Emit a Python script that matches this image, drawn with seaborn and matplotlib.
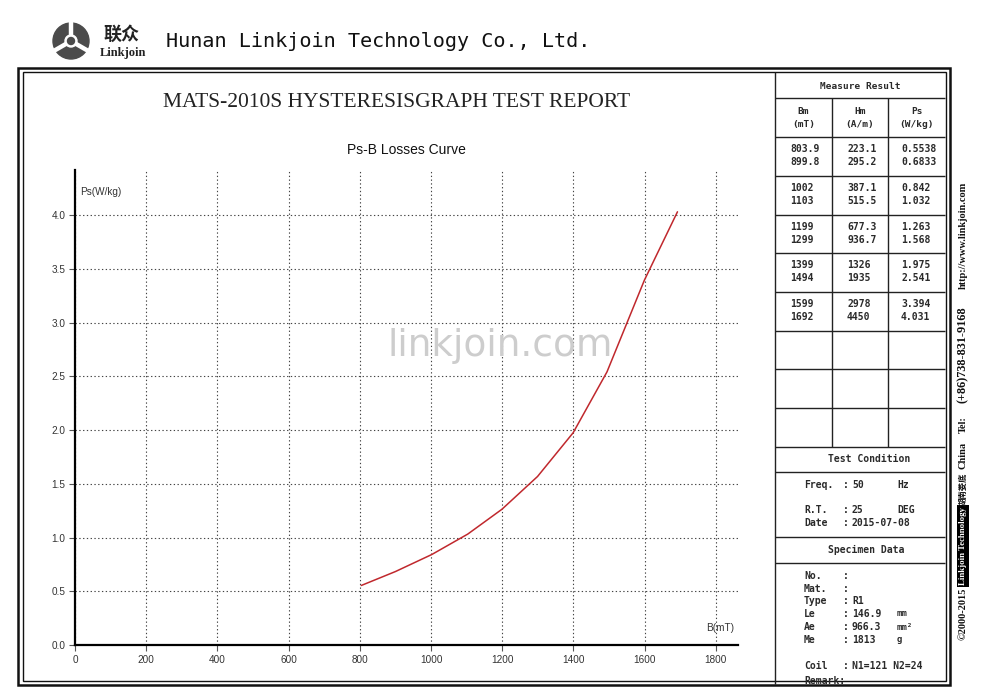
import numpy as np
import pandas as pd
import matplotlib
matplotlib.use("Agg")
import matplotlib.pyplot as plt
import seaborn as sns
from matplotlib.patches import Circle, Rectangle
from matplotlib.ticker import FormatStrFormatter

# measured data (Measure Result table)
bm = [803.9, 899.8, 1002, 1103, 1199, 1299, 1399, 1494, 1599, 1692]
hm = [223.1, 295.2, 387.1, 515.5, 677.3, 936.7, 1326, 1935, 2978, 4450]
ps = [0.5538, 0.6833, 0.842, 1.032, 1.263, 1.568, 1.975, 2.541, 3.394, 4.031]

x_ticks = [0, 200, 400, 600, 800, 1000, 1200, 1400, 1600, 1800]
y_ticks = [0.0, 0.5, 1.0, 1.5, 2.0, 2.5, 3.0, 3.5, 4.0]

col_heads = [("Bm", "(mT)"), ("Hm", "(A/m)"), ("Ps", "(W/kg)")]

cond_labels = ["Freq.", "R.T.", "Date"]
cond_values = ["50", "25", "2015-07-08"]
cond_units = ["Hz", "DEG", ""]

spec_labels = ["No.", "Mat.", "Type", "Le", "Ae", "Me", "Coil"]
spec_values = ["", "", "R1", "146.9", "966.3", "1813", "N1=121 N2=24"]
spec_units = ["", "", "", "mm", "mm²", "g", ""]

sns.set_theme(style="white")
plt.rcParams["font.family"] = ["Liberation Sans", "Noto Sans CJK SC"]

fig = plt.figure(figsize=(10, 6.94), dpi=100)

# full-figure layer in pixel units for the report frame / table
bg = fig.add_axes([0, 0, 1, 1], zorder=0)
bg.set_xlim(0, 1000)
bg.set_ylim(694, 0)
bg.axis("off")

MONO = "DejaVu Sans Mono"
SERIF = ["Liberation Serif", "Noto Sans CJK SC"]
TXT = "#2a2a2a"


def px(x, y, s, **kw):
    kw.setdefault("fontsize", 7)
    kw.setdefault("family", MONO)
    kw.setdefault("color", TXT)
    kw.setdefault("va", "center")
    bg.text(x, y, s, **kw)


def hline(y, x0, x1, lw=1.0, color="#222"):
    bg.plot([x0, x1], [y, y], color=color, lw=lw, solid_capstyle="butt", zorder=3)


def vline(x, y0, y1, lw=1.0, color="#222"):
    bg.plot([x, x], [y0, y1], color=color, lw=lw, solid_capstyle="butt", zorder=3)


# header: logo + company name
bg.add_patch(Circle((71, 41), 18, color="#4b4b4b", zorder=2))
for ang in (90, 210, 330):
    a = np.deg2rad(ang)
    bg.plot([71, 71 + 19 * np.cos(a)], [41, 41 - 19 * np.sin(a)], color="white", lw=3.2, zorder=3)
bg.add_patch(Circle((71, 41), 6, color="white", zorder=3))
bg.add_patch(Circle((71, 41), 3.5, color="#4b4b4b", zorder=4))
px(122, 34, "联众", fontsize=13, family="Noto Sans CJK SC", weight="bold", ha="center", color="#222")
px(123, 53, "Linkjoin", fontsize=9, family=SERIF, weight="bold", ha="center", color="#222")
px(166, 41, "Hunan Linkjoin Technology Co., Ltd.", fontsize=14.5, family=MONO, color="#111")

# double frame
bg.add_patch(Rectangle((18, 68), 932, 617, fill=False, lw=1.8, ec="#111", zorder=3))
bg.add_patch(Rectangle((22.5, 72), 923, 609, fill=False, lw=1.0, ec="#111", zorder=3))

# report titles
px(397, 102, "MATS-2010S HYSTERESISGRAPH TEST REPORT", fontsize=15.5, family=SERIF, ha="center", color="#222")
px(406, 150, "Ps-B Losses Curve", fontsize=10, family="Liberation Sans", ha="center", color="#111")

# ---- right table ----
c0, c1, c2, c3 = 775, 832, 888, 945
vline(c0, 72, 684)
rows = [98, 137, 176, 215, 253, 292, 331, 369, 408, 447, 472, 537, 563]
for r in rows:
    hline(r, c0, c3)
for cx in (c1, c2):
    vline(cx, 98, 447)

px(860, 86, "Measure Result", ha="center", weight="bold", fontsize=6.8)
centers = [803.5, 860, 916.5]
for cx, (h1, h2) in zip(centers, col_heads):
    px(cx, 111, h1, ha="center", weight="bold", fontsize=6.8)
    px(cx, 124, h2, ha="center", weight="bold", fontsize=6.8)

lefts = [790, 847, 901]
for i in range(len(bm)):
    r = i // 2
    y = rows[1 + r] + 11.5 + 13 * (i % 2)
    for xl, v in zip(lefts, (bm[i], hm[i], ps[i])):
        px(xl, y, f"{v:g}", weight="bold", fontsize=7)

px(869, 459, "Test Condition", ha="center", weight="bold", fontsize=7)
for y, lab, val, unit in zip([485, 510, 523], cond_labels, cond_values, cond_units):
    px(804, y, lab, weight="bold", fontsize=7)
    px(843, y, ":", weight="bold", fontsize=7)
    px(852, y, val, weight="bold", fontsize=7)
    px(897, y, unit, weight="bold", fontsize=7)

px(866, 550, "Specimen Data", ha="center", weight="bold", fontsize=7)
for y, lab, val, unit in zip([576, 589, 601, 614, 627, 640, 666], spec_labels, spec_values, spec_units):
    px(804, y, lab, weight="bold", fontsize=7)
    px(843, y, ":", weight="bold", fontsize=7)
    px(852, y, val, weight="bold", fontsize=7)
    px(897, y, unit, weight="bold", fontsize=6.5)
px(804, 681, "Remark:", weight="bold", fontsize=7)
bg.add_patch(Rectangle((760, 681.5), 200, 13, color="white", zorder=2.5))

# vertical contact strip
side = [
    (614, "©2000-2015", {}),
    (546, "Linkjoin Technology", {"color": "white", "fontsize": 6.3,
                                  "bbox": dict(facecolor="black", edgecolor="none", pad=1.2)}),
    (489, "湖南娄底", {"family": "Noto Sans CJK SC", "fontsize": 6}),
    (455, "China", {}),
    (425, "Tel:", {}),
    (355, "(+86)738-831-9168", {"fontsize": 8.8}),
    (235, "http://www.linkjoin.com", {}),
]
for y, s, extra in side:
    kw = dict(fontsize=7.5, family=SERIF, weight="bold", color="#111", rotation=90, ha="center", va="center")
    kw.update(extra)
    bg.text(963, y, s, **kw)

# ---- the Ps-B curve ----
df = pd.DataFrame({"B": bm, "Ps": ps})
ax = fig.add_axes([75 / 1000, 49 / 694, 663 / 1000, 475 / 694], zorder=1)
ax.patch.set_alpha(0)
sns.lineplot(data=df, x="B", y="Ps", color="#c0282d", linewidth=1.1, ax=ax)
ax.set_xlim(0, 1862)
ax.set_ylim(0, 4.42)
ax.set_xticks(x_ticks)
ax.set_yticks(y_ticks)
ax.yaxis.set_major_formatter(FormatStrFormatter("%.1f"))
ax.set_xlabel("")
ax.set_ylabel("")
for side_name in ("top", "right"):
    ax.spines[side_name].set_visible(False)
for side_name in ("left", "bottom"):
    ax.spines[side_name].set_linewidth(1.6)
    ax.spines[side_name].set_color("black")
ax.tick_params(axis="both", direction="out", length=4, width=0.8, color="#555",
               labelsize=7.2, labelcolor="#333", pad=3, bottom=True, left=True)
ax.grid(True, linestyle=(0, (1.2, 2.2)), linewidth=0.8, color="#444")
ax.text(0.0075, 0.954, "Ps(W/kg)", transform=ax.transAxes, fontsize=7.2, color="#333", va="center")
ax.text(0.994, 0.036, "B(mT)", transform=ax.transAxes, fontsize=7.2, color="#333", va="center", ha="right")

# watermark
fig.text(0.5, 1 - 346 / 694, "linkjoin.com", fontsize=27, color="#cdcdcd", ha="center", va="center",
         family="DejaVu Sans", zorder=5)

fig.savefig("out.png", dpi=100)
